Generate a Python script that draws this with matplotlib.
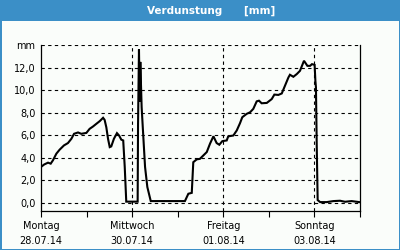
import matplotlib
matplotlib.use("Agg")
import matplotlib.pyplot as plt
from matplotlib.patches import Rectangle

# hours since Monday 28.07.14 00:00
hours = [0, 1.7, 3.7, 5.1, 6.3, 8.1, 9.8, 12.1, 14.2, 16.0, 17.4, 19.5, 21.2, 23.9,
         25.6, 27.4, 29.1, 30.9, 32.7, 33.5, 34.4, 35.3, 36.2, 37.0, 38.4, 40.0,
         41.1, 42.3, 43.3, 44.1, 44.9, 50.9, 51.1, 51.6, 52.0, 52.3, 53.0, 53.6,
         54.8, 56.0, 57.8, 75.8, 77.6, 79.4, 80.2, 82.0, 83.7, 85.5, 87.3, 89.0,
         90.8, 92.5, 93.9, 95.5, 97.8, 98.6, 101.3, 103.1, 104.8, 106.0, 108.3,
         110.1, 111.8, 113.6, 114.8, 116.2, 118.9, 121.5, 122.9, 125.0, 126.8,
         128.5, 130.3, 131.1, 132.9, 134.7, 136.4, 138.5, 140.3, 141.7, 142.7,
         144.1, 144.5, 144.8, 145.2, 145.7, 147.0, 150.5, 154.0, 157.5, 160.1,
         163.6, 167.6]
values = [3.18, 3.4, 3.56, 3.47, 3.77, 4.36, 4.71, 5.09, 5.3, 5.68, 6.12, 6.24, 6.12, 6.2,
          6.56, 6.77, 7.0, 7.24, 7.54, 7.36, 6.7, 5.68, 4.94, 5.0, 5.68, 6.18,
          5.97, 5.6, 5.53, 3.18, 0.1, 0.1, 6.86, 13.6, 9.0, 12.5, 8.5, 6.7,
          3.18, 1.4, 0.15, 0.15, 0.8, 0.88, 3.6, 3.85, 3.9, 4.2, 4.5, 5.24,
          5.9, 5.3, 5.15, 5.47, 5.53, 5.89, 5.97, 6.42, 7.06, 7.59, 7.89,
          8.03, 8.33, 9.0, 9.06, 8.83, 8.86, 9.2, 9.6, 9.57, 9.7,
          10.39, 11.12, 11.36, 11.18, 11.42, 11.71, 12.6, 12.15, 12.15, 12.3,
          12.24, 10.83, 10.24, 5.24, 0.24, 0.06, 0.06, 0.15, 0.18, 0.09,
          0.15, 0.06]

x_major = [0, 48, 96, 144]
x_labels = ["Montag\n28.07.14", "Mittwoch\n30.07.14", "Freitag\n01.08.14", "Sonntag\n03.08.14"]
x_minor = [24, 72, 120, 168]
y_ticks = [0, 2, 4, 6, 8, 10, 12, 14]
y_labels = ["0,0", "2,0", "4,0", "6,0", "8,0", "10,0", "12,0", "mm"]
title = "Verdunstung      [mm]"

blue = "#3b8fc7"
bg = "#fafdfa"

fig = plt.figure(figsize=(4, 2.5), dpi=100)
fig.patch.set_facecolor(bg)
W, H = 400, 250
def frect(x0, y0, w, h):
    # pixel rect with y measured from top
    fig.patches.append(Rectangle((x0 / W, 1 - (y0 + h) / H), w / W, h / H,
                                 transform=fig.transFigure, facecolor=blue,
                                 edgecolor="none", zorder=5))
frect(0, 0, 400, 21)      # title bar
frect(0, 0, 1.5, 250)     # left border
frect(398.5, 0, 1.5, 250) # right border
frect(0, 248.5, 400, 1.5) # bottom border

fig.text(211/400, 1 - 10.5/250, title, color="white", fontsize=7.5, fontweight="bold",
         ha="center", va="center", family="DejaVu Sans", zorder=6)

ax = fig.add_axes([41/400, 1 - 211/250, 319/400, (211 - 45) / 250])
ax.set_facecolor(bg)
ax.plot(hours, values, color="black", lw=1.5, solid_joinstyle="miter", zorder=3)
ax.set_xlim(0, 168)
ax.set_ylim(-0.73, 14)

ax.set_xticks(x_major)
ax.set_xticklabels(x_labels, fontsize=7, linespacing=1.6)
ax.set_xticks(x_minor, minor=True)
ax.tick_params(axis="x", which="both", direction="out", length=4, width=0.8, pad=3.5, colors="black")
ax.set_yticks(y_ticks)
ax.set_yticklabels(y_labels, fontsize=7)
ax.tick_params(axis="y", length=0, pad=4)

for y in y_ticks:
    ax.axhline(y, color="black", lw=0.8, ls=(0, (3, 3)), zorder=1)
for x in [48, 96, 144]:
    ax.axvline(x, color="black", lw=0.8, ls=(0, (3, 3)), zorder=1)

ax.spines["top"].set_visible(False)
for s in ["left", "right", "bottom"]:
    ax.spines[s].set_linewidth(0.9)
    ax.spines[s].set_color("black")

fig.savefig("out.png", dpi=100, facecolor=bg)
